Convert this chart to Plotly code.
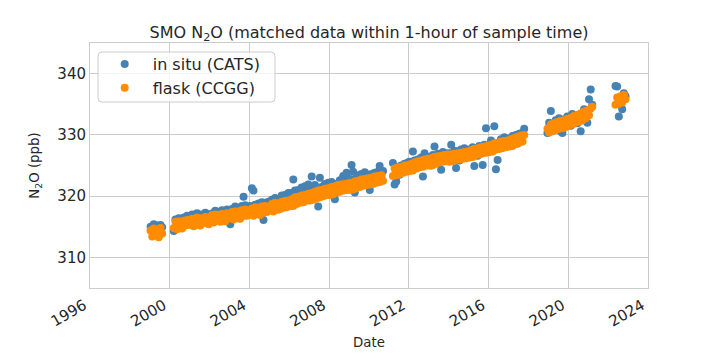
import plotly.graph_objects as go
import pandas as pd

# ---- data ----
# one row per calendar year; first_month = month of the first sample in that year
years = [1999, 2000, 2001, 2002, 2003, 2004, 2005, 2006, 2007, 2008, 2009, 2010,
         2011, 2012, 2013, 2014, 2015, 2016, 2017, 2018, 2019, 2020, 2021, 2022]
first_month = [1, 3, 1, 1, 1, 1, 1, 1, 1, 1, 1, 1,
               3, 1, 1, 1, 1, 1, 1, 12, 1, 1, 1, 5]

flask_ccgg = [
    [314.4, 313.4, 314.7, 313.6, 314.5, 313.3, 314.8, 313.9],
    [314.8, 315.8, 314.6, 315.9, 315.0, 314.7, 316.0, 315.2, 316.1, 315.4],
    [315.3, 316.3, 315.1, 316.2, 316.5, 315.4, 315.2, 316.4, 315.6, 316.6, 316.1, 315.4],
    [315.9, 316.9, 315.7, 317.0, 316.1, 316.9, 315.8, 317.1, 316.3, 315.9, 317.2, 316.4],
    [316.4, 317.4, 316.2, 317.5, 316.6, 317.5, 316.3, 317.7, 316.8, 317.8, 316.8, 317.5],
    [317.0, 318.0, 316.8, 318.2, 317.2, 318.1, 316.9, 318.3, 317.3, 318.4, 317.4, 318.2],
    [317.7, 318.7, 317.5, 318.9, 317.9, 318.8, 317.9, 319.1, 318.1, 319.2, 318.2, 319.3],
    [318.4, 319.5, 318.4, 319.8, 318.7, 319.9, 318.9, 320.1, 319.0, 320.2, 319.3, 320.4],
    [319.3, 320.5, 319.4, 320.7, 319.6, 320.9, 319.8, 321.0, 320.0, 321.2, 320.2, 321.3],
    [320.2, 321.5, 320.3, 321.6, 320.6, 321.8, 320.7, 321.9, 320.9, 322.0, 321.0, 322.1],
    [321.0, 322.2, 321.1, 322.4, 321.3, 322.5, 321.5, 322.7, 321.7, 322.8, 321.8, 322.9],
    [321.9, 323.0, 322.0, 323.2, 322.2, 323.3, 322.3, 323.4, 322.5],
    [323.3, 324.5, 323.4, 324.7, 323.6, 324.8, 323.8, 325.0, 324.0, 325.1],
    [324.1, 325.3, 324.2, 325.5, 324.5, 325.7, 324.7, 325.8, 324.8, 326.0, 325.0, 326.1],
    [325.0, 326.2, 325.1, 326.4, 325.3, 326.5, 325.5, 326.6, 325.6, 326.7, 325.7, 326.8],
    [325.6, 326.8, 325.7, 326.9, 325.9, 327.0, 326.0, 327.1, 326.1, 327.2, 326.2, 327.3],
    [326.3, 327.5, 326.4, 327.7, 326.7, 327.8, 326.8, 328.0, 327.0, 328.1, 327.1, 328.2],
    [327.2, 328.4, 327.3, 328.6, 327.6, 328.7, 327.7, 328.9, 327.9, 329.0, 328.0, 329.1],
    [328.1, 329.3, 328.2, 329.5, 328.5, 329.7, 328.7, 329.9, 328.9, 330.0],
    [331.0],
    [330.4, 331.7, 330.6, 331.9, 330.8, 332.1, 331.0, 332.3, 331.1, 332.4, 331.3, 332.6],
    [331.6, 332.8, 331.7, 333.1, 332.0, 333.3, 332.2, 333.5, 332.4, 333.8, 332.7, 334.0],
    [333.2, 334.3, 334.6],
    [334.9, 336.1, 335.1, 336.3, 335.3, 336.5, 335.8],
]

insitu_cats = [
    [315.0, 314.6, 315.4, 314.8, 315.2, 314.5, 315.3, 314.9],
    [314.3, 316.2, 315.5, 316.4, 315.9, 315.0, 316.5, 315.6, 316.8, 316.0],
    [316.6, 317.0, 316.1, 316.9, 317.2, 316.3, 315.6, 317.0, 316.5, 317.3, 316.8, 316.2],
    [317.1, 316.4, 317.3, 317.6, 316.8, 317.4, 316.2, 317.7, 317.0, 316.6, 317.8, 317.2],
    [315.4, 317.9, 317.2, 318.3, 317.5, 316.4, 317.8, 318.4, 319.9, 318.5, 317.9, 318.2],
    [318.4, 321.3, 320.9, 318.6, 317.9, 318.8, 318.2, 319.0, 316.1, 318.9, 318.5, 319.1],
    [318.9, 319.4, 318.6, 319.7, 319.2, 317.8, 319.5, 320.1, 319.3, 320.2, 319.0, 320.5],
    [319.8, 320.5, 322.7, 320.9, 319.6, 321.0, 320.3, 321.4, 320.1, 321.6, 320.8, 321.9],
    [320.7, 323.2, 321.0, 321.8, 320.4, 318.3, 323.0, 321.5, 320.9, 322.0, 321.3, 322.2],
    [321.5, 322.3, 321.0, 319.5, 322.0, 321.8, 322.6, 321.4, 323.3, 322.1, 323.8, 322.5],
    [322.8, 325.1, 324.0, 320.6, 322.9, 323.4, 322.5, 323.6, 322.3, 323.9, 322.7, 323.5],
    [321.0, 323.6, 322.9, 323.8, 323.2, 324.0, 324.9, 323.5, 324.1],
    [325.4, 321.9, 322.4, 324.8, 323.5, 325.0, 323.9, 325.3, 324.2, 325.5],
    [325.6, 324.4, 327.3, 325.8, 324.6, 326.0, 325.2, 326.3, 323.2, 327.0, 325.5, 326.4],
    [326.2, 325.0, 326.7, 328.1, 325.4, 326.9, 326.1, 324.3, 327.2, 325.8, 327.0, 326.5],
    [327.0, 328.4, 326.5, 327.4, 324.6, 327.3, 325.8, 327.6, 326.4, 327.8, 326.9, 327.5],
    [327.6, 326.5, 328.0, 324.9, 327.8, 326.6, 328.2, 327.0, 325.1, 328.4, 331.1, 327.9],
    [328.3, 329.1, 327.4, 331.4, 324.4, 325.9, 328.7, 329.3, 327.9, 329.6, 328.5, 329.0],
    [329.4, 328.2, 329.8, 328.9, 330.0, 328.6, 330.2, 329.1, 330.4, 331.0],
    [330.3],
    [332.0, 333.9, 331.5, 330.9, 332.4, 331.3, 332.7, 330.6, 330.3, 332.5, 331.8, 333.0],
    [332.6, 331.5, 333.4, 332.0, 333.1, 331.9, 333.0, 330.6, 332.4, 334.2, 333.5, 332.0],
    [335.8, 337.4, 334.9],
    [338.0, 337.9, 333.0, 335.0, 334.2, 336.8, 336.3],
]

year_ticks = ["1996", "2000", "2004", "2008", "2012", "2016", "2020", "2024"]
y_ticks = [310, 320, 330, 340]

# ---- build sample dates from the year / month table ----
dates, flask_vals, insitu_vals = [], [], []
for yr, m0, fv, iv in zip(years, first_month, flask_ccgg, insitu_cats):
    for k, (f, i) in enumerate(zip(fv, iv)):
        dates.append(pd.Timestamp(year=yr, month=m0 + k, day=15))
        flask_vals.append(f)
        insitu_vals.append(i)

TXT = "#262626"
GRID = "#cccccc"
FONT = "DejaVu Sans"

fig = go.Figure()
fig.add_trace(go.Scatter(x=dates, y=insitu_vals, mode="markers", name="in situ (CATS)",
                         marker=dict(color="#4682b4", size=8, line=dict(width=0))))
fig.add_trace(go.Scatter(x=dates, y=flask_vals, mode="markers", name="flask (CCGG)",
                         marker=dict(color="#ff8c00", size=8, line=dict(width=0))))

# legend frame (rounded box like matplotlib), in paper coordinates
W_PLOT, H_PLOT = 558.0, 245.0
x0, x1 = 8 / W_PLOT, 185 / W_PLOT
y1, y0 = 1 - 9 / H_PLOT, 1 - 59 / H_PLOT
rx, ry = 4 / W_PLOT, 4 / H_PLOT
legend_path = (f"M {x0+rx},{y1} L {x1-rx},{y1} Q {x1},{y1} {x1},{y1-ry} "
               f"L {x1},{y0+ry} Q {x1},{y0} {x1-rx},{y0} "
               f"L {x0+rx},{y0} Q {x0},{y0} {x0},{y0+ry} "
               f"L {x0},{y1-ry} Q {x0},{y1} {x0+rx},{y1} Z")

fig.update_layout(
    width=720, height=360,
    margin=dict(l=90, r=72, t=43, b=72),
    paper_bgcolor="white", plot_bgcolor="white",
    font=dict(family=FONT, color=TXT, size=15),
    title=dict(text="SMO N<sub>2</sub>O (matched data within 1-hour of sample time)",
               x=0.5125, xanchor="center", y=0.91, yanchor="middle",
               font=dict(size=16, color=TXT, family=FONT)),
    showlegend=True,
    legend=dict(x=0.012, y=1 - 4 / H_PLOT, xanchor="left", yanchor="top",
                bgcolor="rgba(0,0,0,0)", borderwidth=0,
                font=dict(size=16, color=TXT, family=FONT),
                itemwidth=46, tracegroupgap=0),
    shapes=[dict(type="path", xref="paper", yref="paper", path=legend_path,
                 fillcolor="rgba(255,255,255,0.8)", line=dict(color=GRID, width=1),
                 layer="above")],
)

fig.update_xaxes(
    type="date", automargin=False,
    range=[f"{year_ticks[0]}-01-01", f"{year_ticks[-1]}-01-01"],
    tickvals=[f"{y}-01-01" for y in year_ticks], ticktext=year_ticks,
    tickangle=-30, tickfont=dict(size=15, color=TXT),
    ticklabelshift=-6, ticklabelstandoff=2,
    showgrid=True, gridcolor=GRID, gridwidth=1,
    showline=True, linecolor=GRID, linewidth=1, mirror=True,
    ticks="", zeroline=False,
    title=dict(text="Date", font=dict(size=13.3, color=TXT), standoff=8),
)
fig.update_yaxes(
    automargin=False,
    range=[305, 345],
    tickvals=y_ticks, ticktext=[str(v) for v in y_ticks],
    tickfont=dict(size=15, color=TXT),
    showgrid=True, gridcolor=GRID, gridwidth=1,
    showline=True, linecolor=GRID, linewidth=1, mirror=True,
    ticks="", zeroline=False,
    title=dict(text="N<sub>2</sub>O (ppb)", font=dict(size=13.3, color=TXT), standoff=14),
)

fig.write_html("out.html", config={"displayModeBar": False},
               post_script="document.body.style.margin='0';")
